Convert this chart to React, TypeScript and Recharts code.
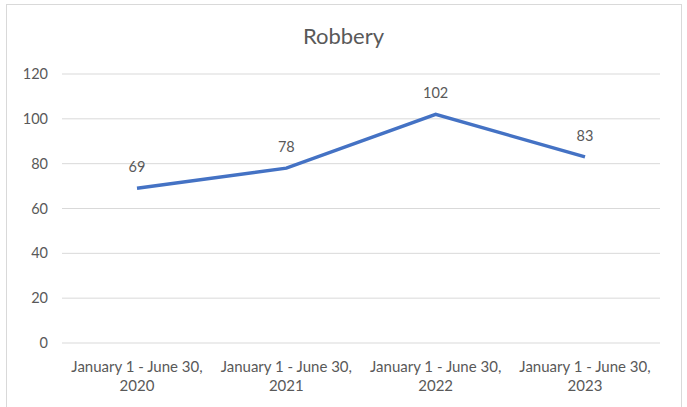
import { LineChart, Line, XAxis, YAxis, CartesianGrid, LabelList } from "recharts";

const periods = [
  "January 1 - June 30, 2020",
  "January 1 - June 30, 2021",
  "January 1 - June 30, 2022",
  "January 1 - June 30, 2023",
];
const robbery = [69, 78, 102, 83];
const yTicks = [0, 20, 40, 60, 80, 100, 120];

const data = periods.map((p, i) => ({ period: p, value: robbery[i] }));

const FONT = "Lato, 'Open Sans', sans-serif";
const TEXT = "#595959";

function PeriodTick(props: any) {
  const { x, y, payload } = props;
  const s = String(payload.value);
  const cut = s.lastIndexOf(" ");
  const first = s.slice(0, cut);
  const second = s.slice(cut + 1);
  return (
    <text x={x} y={y} textAnchor="middle" fill={TEXT} fontSize={15} fontFamily={FONT}>
      <tspan x={x} dy={21}>{first}</tspan>
      <tspan x={x} dy={19}>{second}</tspan>
    </text>
  );
}

export default function App() {
  return (
    <div style={{ position: "fixed", left: 0, top: 0, width: 687, height: 407, background: "#fff", overflow: "hidden" }}>
      <div
        style={{
          position: "absolute",
          left: 6,
          top: 4,
          width: 674,
          height: 420,
          border: "1px solid #d9d9d9",
        }}
      />
      <div
        style={{
          position: "absolute",
          left: 0,
          top: 22,
          width: 687,
          textAlign: "center",
          fontFamily: FONT,
          fontSize: 22,
          color: TEXT,
        }}
      >
        Robbery
      </div>
      <LineChart
        width={687}
        height={407}
        data={data}
        margin={{ top: 74, right: 27, left: 0, bottom: 4 }}
        style={{ position: "absolute", left: 0, top: 0 }}
      >
        <CartesianGrid vertical={false} stroke="#d9d9d9" strokeWidth={1} />
        <XAxis
          dataKey="period"
          axisLine={false}
          tickLine={false}
          interval={0}
          height={60}
          padding={{ left: 75, right: 75 }}
          tick={<PeriodTick />}
        />
        <YAxis
          width={62}
          domain={[0, 120]}
          ticks={yTicks}
          axisLine={false}
          tickLine={false}
          tickSize={0}
          tickMargin={14}
          tick={{ fill: TEXT, fontSize: 14.5, fontFamily: FONT }}
        />
        <Line
          type="linear"
          dataKey="value"
          stroke="#4472C4"
          strokeWidth={3.5}
          dot={false}
          isAnimationActive={false}
        >
          <LabelList
            dataKey="value"
            position="top"
            offset={16}
            fill={TEXT}
            fontSize={14.5}
            fontFamily={FONT}
          />
        </Line>
      </LineChart>
    </div>
  );
}
